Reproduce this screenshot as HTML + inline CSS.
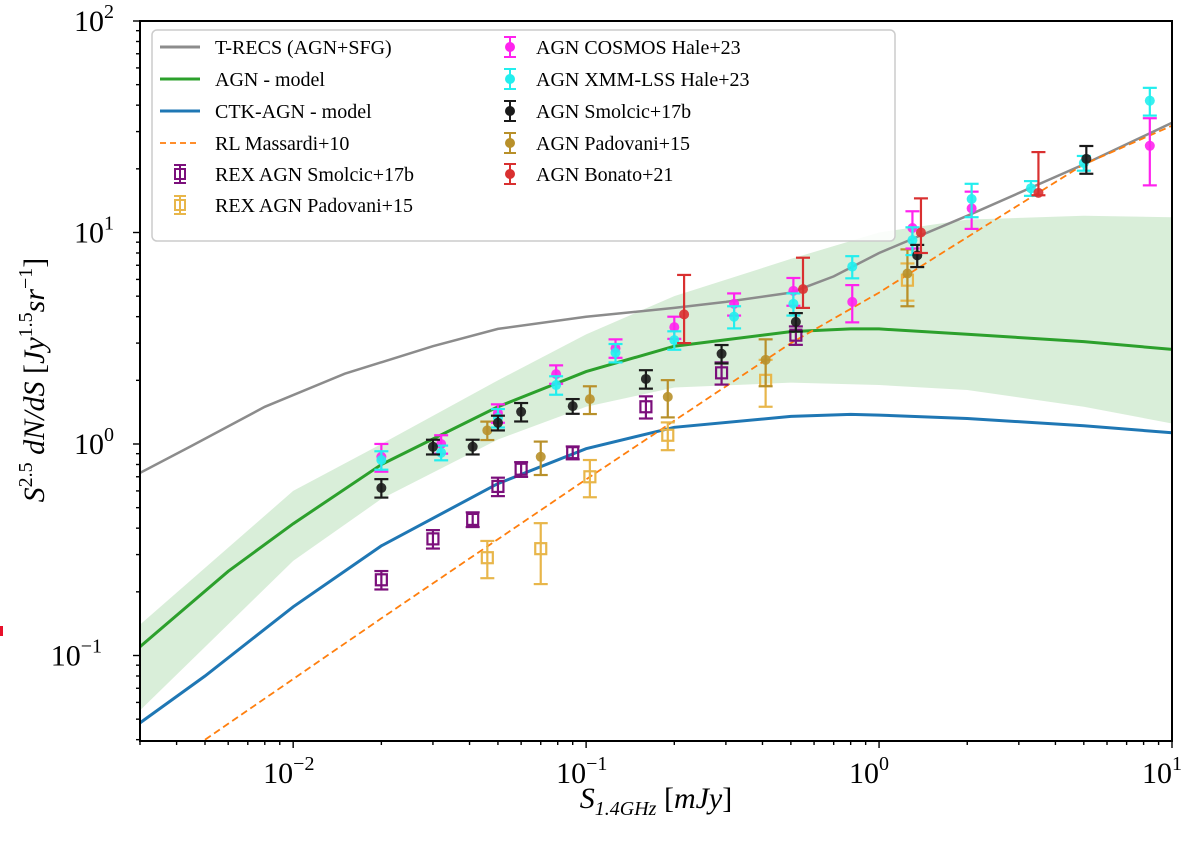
<!DOCTYPE html>
<html><head><meta charset="utf-8"><style>
html,body{margin:0;padding:0;background:#fff}
svg text{font-family:"Liberation Serif","DejaVu Serif",serif}
</style></head><body>
<svg id="chart" width="1200" height="841" viewBox="0 0 1200 841" xmlns="http://www.w3.org/2000/svg">
<rect x="0" y="626" width="3" height="10" fill="#e8102a"/>
<g id="plot"></g>
</svg>
<script>
// ---- data ----
const trecsX=[0.003,0.0045,0.008,0.015,0.03,0.05,0.1,0.2,0.3,0.5,0.7,1,2,5,10];
const trecsY=[0.73,0.98,1.5,2.15,2.9,3.5,4.0,4.4,4.7,5.2,6.2,8.0,12,21,33];
const agnX=[0.003,0.006,0.01,0.02,0.05,0.1,0.2,0.5,0.8,1,2,5,10];
const agnY=[0.11,0.25,0.42,0.8,1.5,2.2,2.9,3.4,3.5,3.5,3.3,3.05,2.8];
const bandX=[0.003,0.01,0.02,0.05,0.1,0.2,0.5,1,2,5,10];
const bandHi=[0.14,0.6,1.0,2.0,3.3,5,7.5,10,11.5,12,11.8];
const bandLo=[0.055,0.28,0.55,1.05,1.5,1.85,1.95,1.9,1.8,1.5,1.25];
const ctkX=[0.003,0.005,0.01,0.02,0.05,0.1,0.2,0.5,0.8,1,2,5,10];
const ctkY=[0.048,0.08,0.17,0.33,0.65,0.95,1.2,1.35,1.38,1.37,1.32,1.22,1.13];
const rlX=[0.005,0.02,0.1,0.5,1,2,5,10];
const rlY=[0.04,0.15,0.68,3.0,5.2,9.5,21,32];

const rexSmX=[0.02,0.03,0.041,0.05,0.06,0.09,0.16,0.29,0.52];
const rexSmY=[0.228,0.356,0.44,0.63,0.76,0.91,1.5,2.17,3.27];
const rexSmE=[0.1,0.1,0.08,0.1,0.08,0.07,0.12,0.12,0.1];
const rexPaX=[0.046,0.07,0.103,0.19,0.41,1.25];
const rexPaY=[0.29,0.32,0.70,1.10,2.0,5.95];
const rexPaE=[0.2,0.32,0.2,0.15,0.25,0.2];
const cosX=[0.02,0.032,0.05,0.079,0.126,0.2,0.32,0.51,0.81,1.3,2.07,8.4];
const cosY=[0.87,1.0,1.40,2.14,2.84,3.57,4.6,5.3,4.7,10.5,13,25.7];
const cosE=[0.15,0.1,0.1,0.1,0.1,0.12,0.12,0.15,0.2,0.2,0.2,0.35];
const xmmX=[0.02,0.032,0.05,0.079,0.126,0.2,0.32,0.51,0.81,1.3,2.07,3.3,5.0,8.4];
const xmmY=[0.84,0.91,1.33,1.9,2.7,3.1,4.0,4.6,6.9,9.2,14.4,16.2,21.3,42];
const xmmE=[0.1,0.08,0.1,0.1,0.1,0.1,0.12,0.12,0.12,0.15,0.18,0.08,0.08,0.15];
const smX=[0.02,0.03,0.041,0.05,0.06,0.09,0.16,0.29,0.52,1.35,5.1];
const smY=[0.62,0.97,0.97,1.26,1.42,1.51,2.03,2.67,3.78,7.8,22.3];
const smE=[0.1,0.08,0.08,0.08,0.1,0.08,0.1,0.1,0.1,0.12,0.15];
const paX=[0.046,0.07,0.103,0.19,0.41,1.25];
const paY=[1.16,0.87,1.63,1.67,2.5,6.4];
const paE=[0.1,0.18,0.15,0.2,0.25,0.3];
const boX=[0.216,0.55,1.39,3.5];
const boLo=[3.0,4.4,8.0,15];
const boHi=[6.3,7.6,14.5,24];
const boY=[4.1,5.4,10.0,15.4];

const xTickVals=[0.01,0.1,1,10];
const xTickExp=["−2","−1","0","1"];
const yTickVals=[0.1,1,10,100];
const yTickExp=["−1","0","1","2"];

// ---- axes ----
const L=140,R=1172,T=21,B=741;
const xmin=Math.log10(0.003),xmax=1,ymin=2-720/211.5,ymax=2;
const sx=v=>L+(Math.log10(v)-xmin)/(xmax-xmin)*(R-L);
const sy=v=>B-(Math.log10(v)-ymin)/(ymax-ymin)*(B-T);
const NS="http://www.w3.org/2000/svg";
const g=document.getElementById('plot');
function mk(tag,attrs,parent){const e=document.createElementNS(NS,tag);for(const k in attrs)e.setAttribute(k,attrs[k]);(parent||g).appendChild(e);return e;}
function path(xs,ys){return xs.map((x,i)=>(i?'L':'M')+sx(x).toFixed(1)+','+sy(ys[i]).toFixed(1)).join('');}

const clip=mk('clipPath',{id:'cp'});mk('rect',{x:L,y:T,width:R-L,height:B-T},clip);
const body=mk('g',{'clip-path':'url(#cp)'});



let bd=bandX.map((x,i)=>(i?'L':'M')+sx(x)+','+sy(bandHi[i])).join('')+bandX.slice().reverse().map((x,i)=>'L'+sx(x)+','+sy(bandLo[bandX.length-1-i])).join('')+'Z';
const band=mk('path',{d:bd,fill:'#2ca02c','fill-opacity':0.18,stroke:'none'},body);



const l1=mk('path',{d:path(trecsX,trecsY),fill:'none',stroke:'#8c8c8c','stroke-width':2.5},body);


const l2=mk('path',{d:path(agnX,agnY),fill:'none',stroke:'#2ca02c','stroke-width':3},body);


const l3=mk('path',{d:path(ctkX,ctkY),fill:'none',stroke:'#1f77b4','stroke-width':3},body);


const l4=mk('path',{d:path(rlX,rlY),fill:'none',stroke:'#ff7f0e','stroke-width':1.8,'stroke-dasharray':'7,4'},body);



function ebar(x,lo,hi,color,parent){
  const X=sx(x),y1=sy(lo),y2=sy(hi);
  mk('line',{x1:X,x2:X,y1:y1,y2:y2,stroke:color,'stroke-width':2.2},parent);
  mk('line',{x1:X-7,x2:X+7,y1:y1,y2:y1,stroke:color,'stroke-width':2.2},parent);
  mk('line',{x1:X-7,x2:X+7,y1:y2,y2:y2,stroke:color,'stroke-width':2.2},parent);
}
function series(name,xs,ys,es,color,sq,loA,hiA){
  const sg=mk('g',{},body);
  
  
  xs.forEach((x,i)=>{
    const pg=mk('g',{},sg);
    
    
    const lo=loA?loA[i]:ys[i]*(1-es[i]),hi=hiA?hiA[i]:ys[i]*(1+es[i]);
    ebar(x,lo,hi,color,pg);
    if(sq) mk('rect',{x:sx(x)-5.5,y:sy(ys[i])-5.5,width:11,height:11,fill:'none',stroke:color,'stroke-width':2.2},pg);
    else mk('circle',{cx:sx(x),cy:sy(ys[i]),r:5,fill:color,'fill-opacity':0.9},pg);
  });
}
series('rex-smolcic',rexSmX,rexSmY,rexSmE,'#7b0f7b',true);
series('rex-padovani',rexPaX,rexPaY,rexPaE,'#e8b64a',true);
series('agn-padovani',paX,paY,paE,'#b8902a',false);
series('agn-cosmos',cosX,cosY,cosE,'#ff22ee',false);
series('agn-xmm',xmmX,xmmY,xmmE,'#22eeee',false);
series('agn-smolcic',smX,smY,smE,'#1a1a1a',false);
series('agn-bonato',boX,boY,null,'#d93030',false,boLo,boHi);

const fr=mk('rect',{x:L,y:T,width:R-L,height:B-T,fill:'none',stroke:'#000','stroke-width':2});



for(let d=-3;d<=1;d++)for(let m=1;m<10;m++){const v=m*Math.pow(10,d);if(v<0.003-1e-9||v>10.0001)continue;const X=sx(v);mk('line',{x1:X,x2:X,y1:B,y2:B+(m==1?7:4),stroke:'#000','stroke-width':1.4});}
for(let d=-2;d<=2;d++)for(let m=1;m<10;m++){const v=m*Math.pow(10,d);const Y=sy(v);if(Y>B+0.5||Y<T-0.5)continue;mk('line',{x1:L,x2:L-(m==1?7:4),y1:Y,y2:Y,stroke:'#000','stroke-width':1.4});}
xTickVals.forEach((v,i)=>{
  const t=mk('text',{x:sx(v)-30,y:B+42,'font-size':30,'text-anchor':'start'});
  
  
  t.innerHTML='10<tspan dy="-13" font-size="20">'+xTickExp[i]+'</tspan>';
});
yTickVals.forEach((v,i)=>{
  const t=mk('text',{x:L-12-(yTickExp[i].length>1?26:14),y:sy(v)+10,'font-size':30,'text-anchor':'end'});
  
  
  t.innerHTML='10<tspan dy="-13" font-size="20">'+yTickExp[i]+'</tspan>';
});
const xt=mk('text',{x:656,y:808,'font-size':30,'text-anchor':'middle','font-style':'italic'});


xt.innerHTML='S<tspan dy="7" font-size="20">1.4GHz</tspan><tspan dy="-7" font-style="normal">   [</tspan>mJy<tspan font-style="normal">]</tspan>';
const yt=mk('text',{x:0,y:0,'font-size':30,'text-anchor':'middle','font-style':'italic',transform:'translate(44,380) rotate(-90)'});


yt.innerHTML='S<tspan dy="-12" font-size="20" font-style="normal">2.5</tspan><tspan dy="12"> dN/dS   </tspan><tspan font-style="normal">[</tspan>Jy<tspan dy="-12" font-size="20" font-style="normal">1.5</tspan><tspan dy="12">sr</tspan><tspan dy="-12" font-size="20" font-style="normal">−1</tspan><tspan dy="12" font-style="normal">]</tspan>';

const lg=mk('g',{});


mk('rect',{x:152,y:30,width:743,height:211,rx:5,fill:'#fff','fill-opacity':0.85,stroke:'#cccccc','stroke-width':1.5},lg);
const rows=[47,79,111,143,174,205];
const leftItems=[['T-RECS (AGN+SFG)','line','#8c8c8c'],['AGN - model','line','#2ca02c'],['CTK-AGN - model','line','#1f77b4'],['RL Massardi+10','dash','#ff7f0e'],['REX AGN Smolcic+17b','sq','#7b0f7b'],['REX AGN Padovani+15','sq','#e8b64a']];
const rightItems=[['AGN COSMOS Hale+23','#ff22ee'],['AGN XMM-LSS Hale+23','#22eeee'],['AGN Smolcic+17b','#1a1a1a'],['AGN Padovani+15','#b8902a'],['AGN Bonato+21','#d93030']];
leftItems.forEach((it,i)=>{
  const e=mk('g',{},lg);
  
  
  const y=rows[i];
  if(it[1]=='line') mk('line',{x1:160,x2:200,y1:y,y2:y,stroke:it[2],'stroke-width':3},e);
  else if(it[1]=='dash') mk('line',{x1:160,x2:200,y1:y,y2:y,stroke:it[2],'stroke-width':1.8,'stroke-dasharray':'6,4'},e);
  else {mk('line',{x1:180,x2:180,y1:y-9,y2:y+9,stroke:it[2],'stroke-width':2},e);mk('line',{x1:174,x2:186,y1:y-9,y2:y-9,stroke:it[2],'stroke-width':2},e);mk('line',{x1:174,x2:186,y1:y+9,y2:y+9,stroke:it[2],'stroke-width':2},e);mk('rect',{x:175,y:y-5,width:10,height:10,fill:'none',stroke:it[2],'stroke-width':2},e);}
  const t=mk('text',{x:215,y:y+7,'font-size':20},e);t.textContent=it[0];
});
rightItems.forEach((it,i)=>{
  const e=mk('g',{},lg);
  
  
  const y=rows[i];
  mk('line',{x1:510,x2:510,y1:y-10,y2:y+10,stroke:it[1],'stroke-width':2},e);
  mk('line',{x1:504,x2:516,y1:y-10,y2:y-10,stroke:it[1],'stroke-width':2},e);
  mk('line',{x1:504,x2:516,y1:y+10,y2:y+10,stroke:it[1],'stroke-width':2},e);
  mk('circle',{cx:510,cy:y,r:5,fill:it[1]},e);
  const t=mk('text',{x:536,y:y+7,'font-size':20},e);t.textContent=it[0];
});
</script>
</body></html>
